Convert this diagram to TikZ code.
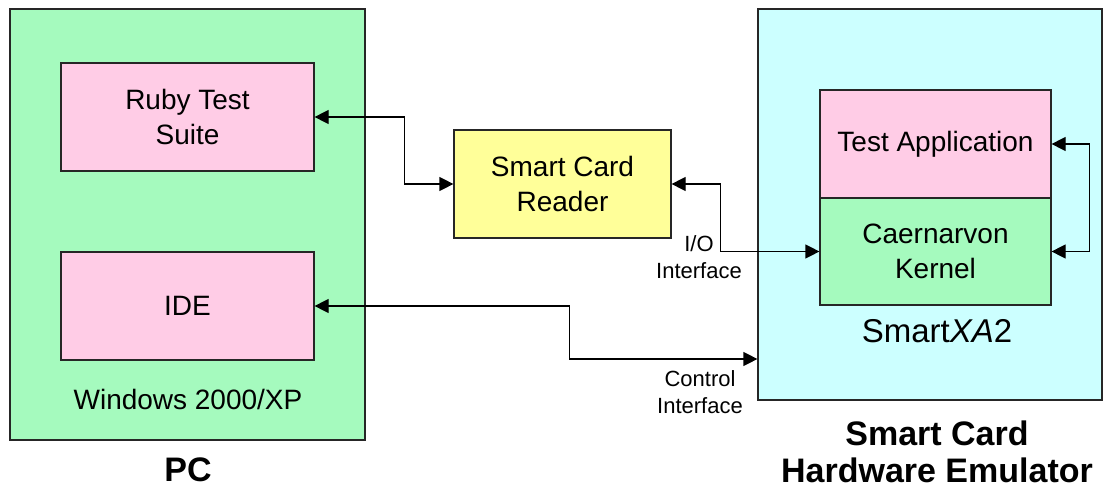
\documentclass[tikz,border=0pt]{standalone}
\usepackage{fontspec}
\setmainfont{Liberation Sans}
\usetikzlibrary{arrows.meta,positioning,calc}
\definecolor{host_color}{RGB}{165,250,190}
\definecolor{app_color}{RGB}{255,204,230}
\definecolor{reader_color}{RGB}{255,255,153}
\definecolor{emu_color}{RGB}{204,255,255}
\definecolor{kernel_color}{RGB}{165,250,190}
\tikzset{
  host/.style={
    draw=black!85, line width=1.2pt, fill=host_color,
    minimum width=355pt, minimum height=431pt
  },
  emu/.style={
    draw=black!85, line width=1.2pt, fill=emu_color,
    minimum width=344pt, minimum height=391pt
  },
  app/.style={
    draw=black!85, line width=1.2pt, fill=app_color,
    minimum width=253pt, minimum height=108pt, align=center,
    font=\fontsize{28}{35}\selectfont
  },
  reader/.style={
    draw=black!85, line width=1.2pt, fill=reader_color,
    minimum width=217pt, minimum height=108pt, align=center,
    font=\fontsize{28}{35}\selectfont
  },
  kernel/.style={
    draw=black!85, line width=1.2pt, fill=kernel_color,
    minimum width=231pt, minimum height=107pt, align=center,
    font=\fontsize{28}{35}\selectfont
  },
  plainlabel/.style={font=\fontsize{28}{35}\selectfont, align=center},
  titlelabel/.style={font=\fontsize{34}{37}\selectfont\bfseries, align=center},
  ifacelabel/.style={font=\fontsize{22}{27}\selectfont, align=center},
  buslink/.style={line width=1.2pt, {Triangle[length=14pt,width=14pt]}-{Triangle[length=14pt,width=14pt]}}
}

\begin{document}
\begin{tikzpicture}[x=1pt, y=-1pt]

\useasboundingbox (0,0) rectangle (1103,489);

% PC side
\node[host] (pc) at (187.5,224.5) {};
\node[app] (ruby) at (187.5,117) {Ruby Test\\Suite};
\node[app] (ide) at (187.5,306) {IDE};
\node[plainlabel] (os) at (188,399) {Windows 2000/XP};
\node[titlelabel] (pctitle) at (188,470) {PC};

% reader
\node[reader] (reader) at (562.5,184) {Smart Card\\Reader};

% emulator side
\node[emu] (emu) at (930,204.5) {};
\node[app, minimum width=231pt] (testapp) at (935.5,144) {Test Application};
\node[kernel] (kernel) at (935.5,251.5) {Caernarvon\\Kernel};
\node[plainlabel, font=\fontsize{33}{35}\selectfont] (chip) at (937,331) {Smart\textit{XA}2};
\node[titlelabel] (emutitle) at (937,451.5) {Smart Card\\Hardware Emulator};

\coordinate (ctrl_in) at (emu.west |- 0,359);

\draw[buslink] (ruby.east) -- ++(90,0) |- (reader.west);
\draw[buslink] (reader.east) -- ++(49,0) |- (kernel.west);
\draw[buslink] (ide.east) -- ++(255,0) |- (ctrl_in);
\draw[buslink] (testapp.east) -- ++(38,0) |- (kernel.east);

\node[ifacelabel] (io) at (699,257) {I/O\\Interface};
\node[ifacelabel] (ctrl) at (700,392) {Control\\Interface};

\end{tikzpicture}
\end{document}
